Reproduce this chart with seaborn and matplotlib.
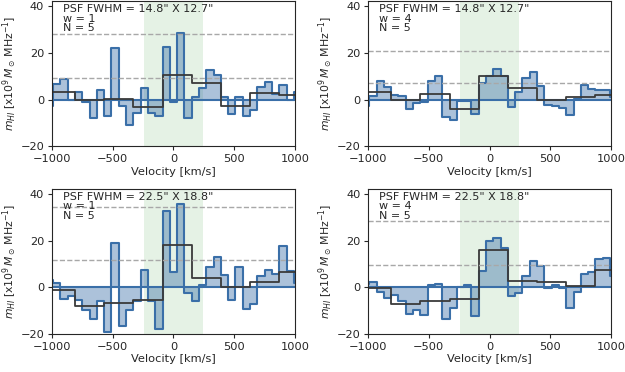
import numpy as np
import pandas as pd
import matplotlib
matplotlib.use('Agg')
import matplotlib.pyplot as plt
import seaborn as sns

# fine velocity bins (km/s) and the coarse rebinned ones
fine_edges = [-1050, -990, -930, -870, -810, -750, -690, -630, -570, -510, -450, -390,
              -330, -270, -210, -150, -90, -30, 30, 90, 150, 210, 270, 330, 390, 450,
              510, 570, 630, 690, 750, 810, 870, 930, 990, 1050]
coarse_edges = [-1050, -810, -570, -330, -90, 150, 390, 630, 870, 1110]

# stacked spectra, x10^9 Msun/MHz
blue1 = [-2.6, 6.6, 8.6, 0.0, 3.4, -1.2, -7.7, 4.3, -7.1, 22.1, -2.9, -11.0, -5.6, 5.0,
         -5.7, -7.0, 22.6, -1.0, 28.6, -8.1, 1.0, 4.9, 12.6, 10.6, 1.1, -6.1, 1.1, -7.0,
         -4.3, 5.3, 7.7, 2.4, 6.4, 0.0, 3.1]
blue2 = [-2.6, 1.7, 8.0, 5.4, 2.0, 1.4, -4.1, -1.4, -1.0, 8.0, 10.0, -7.4, -8.9, -0.7,
         -0.6, -6.1, 7.1, 10.0, 13.1, 10.0, -3.1, 3.4, 9.4, 11.7, 5.7, -2.3, -2.9, -3.4,
         -6.7, 0.3, 6.4, 4.4, 4.1, 3.9, 1.1]
blue3 = [3.0, 1.8, -5.0, -3.5, -5.5, -9.5, -13.5, -6.0, -19.0, 19.0, -16.7, -9.5, -5.7,
         7.5, -6.0, -18.0, 32.8, 6.4, 35.6, -2.4, -6.0, 1.0, 8.5, 12.8, 5.4, -5.5, 8.8,
         -9.1, -7.1, 4.8, 7.5, 5.8, 17.7, 6.8, 2.0]
blue4 = [1.6, 2.4, -1.9, -4.7, -3.1, -5.7, -11.3, -9.6, -11.9, 0.9, 1.4, -13.4, -9.0,
         0.1, 0.9, -12.3, 7.0, 19.9, 21.0, 16.7, -3.9, -2.4, 5.0, 11.1, 9.3, -0.3, 0.9,
         -0.4, -8.9, -2.1, 5.9, 6.6, 12.1, 12.6, 4.7]

black1 = [3.1, -0.3, 0.3, -3.1, 10.6, 7.3, -2.6, 2.6, 1.9]
black2 = [3.4, -0.3, 2.4, -4.0, 10.0, 5.1, -0.3, 0.9, 2.0]
black3 = [-1.0, -8.1, -6.5, -5.5, 18.0, 4.1, 0.0, 2.4, 6.5]
black4 = [-0.4, -7.3, -5.7, -5.0, 16.1, 2.6, 2.3, 0.4, 7.4]

sigma = [9.33, 7.0, 11.5, 9.4]
three_sigma = [28.0, 21.0, 34.5, 28.3]

psf = ['14.8" X 12.7"', '14.8" X 12.7"', '22.5" X 18.8"', '22.5" X 18.8"']
w_vals = [1, 4, 1, 4]
n_vals = [5, 5, 5, 5]

blues = [blue1, blue2, blue3, blue4]
blacks = [black1, black2, black3, black4]

sns.set_style('ticks')
plt.rcParams['font.family'] = ['DejaVu Sans']
plt.rcParams['font.size'] = 8.2

fig, axes = plt.subplots(2, 2, figsize=(6.25, 3.72), dpi=100)
fig.subplots_adjust(left=0.083, right=0.978, bottom=0.102, top=0.998, wspace=0.30, hspace=0.29)

fine_centers = (np.array(fine_edges[:-1]) + np.array(fine_edges[1:])) / 2
coarse_centers = (np.array(coarse_edges[:-1]) + np.array(coarse_edges[1:])) / 2

for i, ax in enumerate(axes.flat):
    ax.axvspan(-240, 240, color='green', alpha=0.1, lw=0)

    df = pd.DataFrame({'vel': fine_centers, 'm': blues[i]})
    sns.histplot(data=df, x='vel', weights='m', bins=fine_edges, element='step', fill=True,
                 color='#3a6fa8', alpha=0.42, linewidth=1.5, ax=ax)

    df2 = pd.DataFrame({'vel': coarse_centers, 'm': blacks[i]})
    sns.histplot(data=df2, x='vel', weights='m', bins=coarse_edges, element='step', fill=False,
                 color='#3a3a3a', linewidth=1.3, ax=ax)

    ax.axhline(sigma[i], color='#a8a8a8', ls='--', lw=1)
    ax.axhline(three_sigma[i], color='#a8a8a8', ls='--', lw=1)

    ax.text(0.045, 0.975, 'PSF FWHM = %s\nw = %d\nN = %d' % (psf[i], w_vals[i], n_vals[i]),
            transform=ax.transAxes, va='top', ha='left', linespacing=0.9, fontsize=8,
            color='#262626')

    ax.set_xlim(-1000, 1000)
    ax.set_ylim(-20, 42.3)
    ax.set_xticks([-1000, -500, 0, 500, 1000])
    ax.set_yticks([-20, 0, 20, 40])
    ax.set_xlabel('Velocity [km/s]', labelpad=2)
    ax.set_ylabel(r'$m_{HI}$ [x10$^9\,M_\odot\,$MHz$^{-1}$]', labelpad=1, fontsize=7.8)
    ax.tick_params(labelsize=8.2, length=3, pad=2.5)

plt.savefig('out.png', dpi=100)
